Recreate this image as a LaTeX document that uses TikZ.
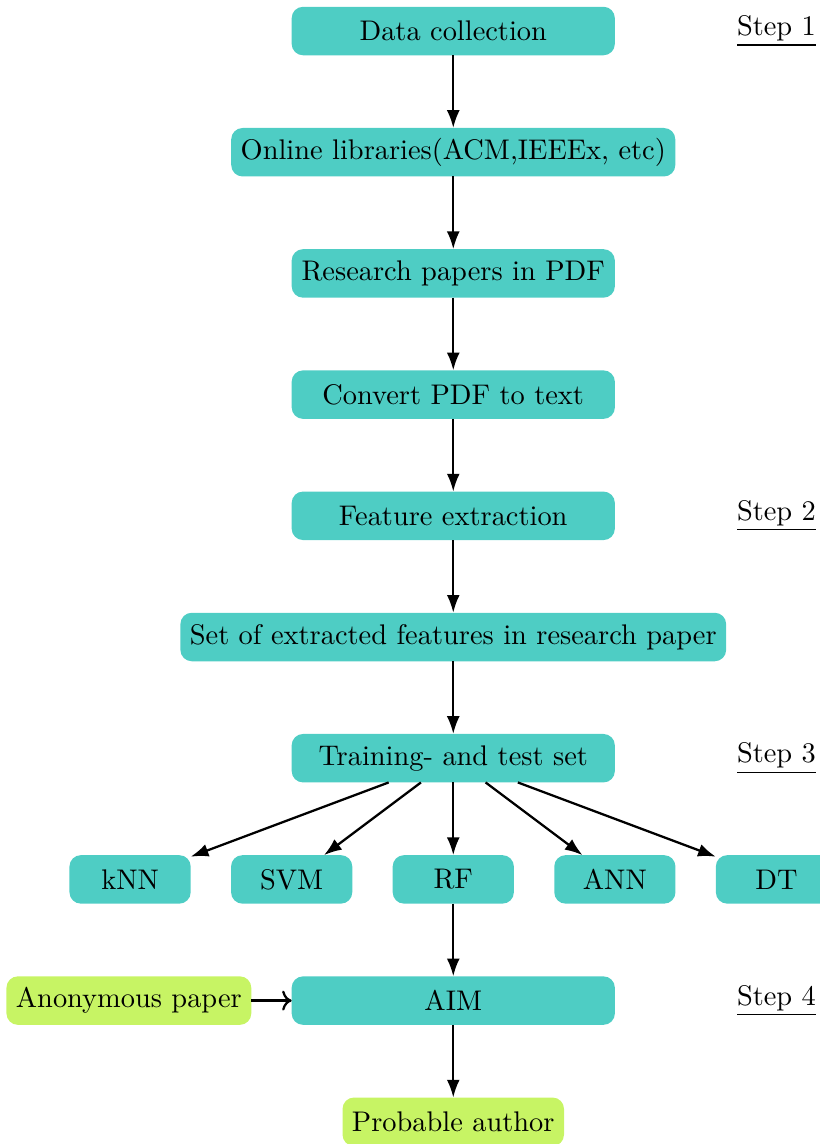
\documentclass[tikz,border=0pt]{standalone}
\usepackage{xcolor}
\usepackage{tikz}
\usetikzlibrary{arrows.meta,positioning,calc}
\definecolor{teal}{HTML}{4ECDC4}
\definecolor{lime}{HTML}{C7F464}
\tikzset{
  stage/.style={rectangle, rounded corners=4pt, fill=#1, draw=none, outer sep=0pt,
                align=center, minimum height=0.6cm},
  wide/.style={stage=teal, minimum width=4cm},
  model/.style={stage=teal, minimum width=1.5cm},
  steplbl/.style={align=center},
  arr/.style={-{Latex[length=2.2mm,width=1.6mm]}, thick},
  feed/.style={->, thick},
}
\begin{document}
\begin{tikzpicture}[node distance=9mm]
        \useasboundingbox (-5.61,0.384) rectangle (4.53,-13.775);
        \node[wide] (dc) {Data collection};
        \node[wide, below=of dc] (lib) {Online libraries(ACM,IEEEx, etc)};
        \node[wide, below=of lib] (pdf) {Research papers in PDF};
        \node[wide, below=of pdf] (conv) {Convert PDF to text};
        \node[wide, below=of conv] (fe) {Feature extraction};
        \node[wide, below=of fe] (feat) {Set of extracted features in research paper};
        \node[wide, below=of feat] (tt) {Training- and test set};
        \node[model, below=of tt] (rf) {RF};
        \node[model, left=5mm of rf] (svm) {SVM};
        \node[model, left=5mm of svm] (knn) {kNN};
        \node[model, right=5mm of rf] (ann) {ANN};
        \node[model, right=5mm of ann] (dt) {DT};
        \node[wide, below=of rf] (aim) {AIM};
        \node[stage=lime, left=5mm of aim] (anon) {Anonymous paper};
        \node[stage=lime, below=of aim] (auth) {Probable author};
        % steps
        \node[steplbl] at (dt |- dc) (s1) {\underline{Step 1}};
        \node[steplbl] at (dt |- fe) (s2) {\underline{Step 2}};
        \node[steplbl] at (dt |- tt) (s3) {\underline{Step 3}};
        \node[steplbl] at (dt |- aim) (s4) {\underline{Step 4}};
        \draw[arr] (dc) -- (lib); \draw[arr] (lib) -- (pdf); \draw[arr] (pdf) -- (conv);
        \draw[arr] (conv) -- (fe); \draw[arr] (fe) -- (feat); \draw[arr] (feat) -- (tt);
        \foreach \m in {knn,svm,rf,ann,dt} \draw[arr] (tt) -- (\m);
        \draw[arr] (rf) -- (aim); \draw[arr] (aim) -- (auth);
        \draw[feed] (anon) -- (aim);
      \end{tikzpicture}
\end{document}
